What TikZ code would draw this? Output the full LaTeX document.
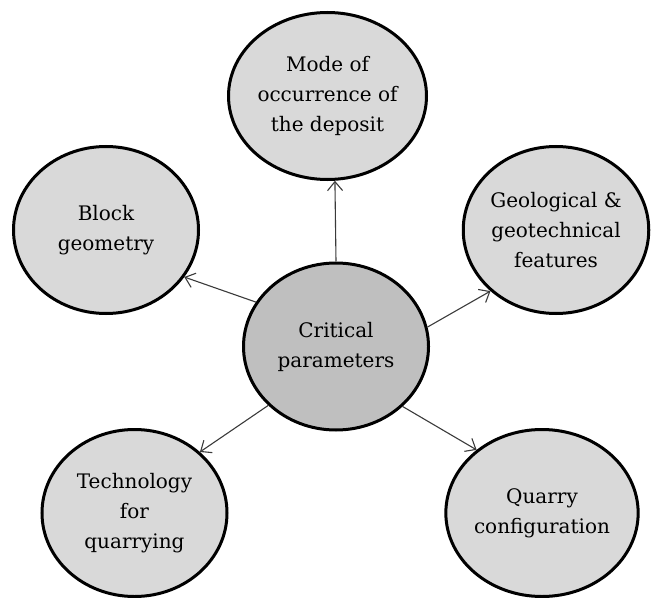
\documentclass[tikz,border=0pt]{standalone}
\usepackage{fontspec}
\setmainfont{DejaVu Serif}
\usetikzlibrary{shapes.geometric,arrows.meta}
\definecolor{outerfill}{HTML}{D9D9D9}
\definecolor{centerfill}{HTML}{BFBFBF}
\definecolor{arrowgray}{HTML}{3A3A3A}
\tikzset{
  bubble/.style={ellipse, draw=black, line width=3bp, fill=outerfill,
    minimum width=185bp, minimum height=167bp, inner sep=0pt, align=center,
    font=\fontsize{20bp}{30bp}\selectfont},
  hub/.style={bubble, fill=centerfill},
  link/.style={draw=arrowgray, line width=1.1bp, -{Straight Barb[length=9bp,width=15bp]}}
}
\begin{document}
\begin{tikzpicture}[x=1bp,y=-1bp]
\useasboundingbox (0,0) rectangle (651,598);
\node[bubble] (mode) at (327.5,96) {Mode of\\occurrence of\\the deposit};
\node[bubble] (block) at (106,230) {Block\\geometry};
\node[bubble] (geo) at (556,230) {Geological \&\\geotechnical\\features};
\node[hub] (crit) at (336,346.5) {Critical\\parameters};
\node[bubble] (tech) at (134.5,513) {Technology\\for\\quarrying};
\node[bubble] (quarry) at (542,513) {Quarry\\configuration};
\draw[link] (crit.90) -- (mode.-85);
\draw[link] (crit.151.5) -- (block.-31.3);
\draw[link] (crit.12.6) -- (geo.223.6);
\draw[link] (crit.221.7) -- (tech.43);
\draw[link] (crit.-42.6) -- (quarry.136.8);
\end{tikzpicture}
\end{document}
